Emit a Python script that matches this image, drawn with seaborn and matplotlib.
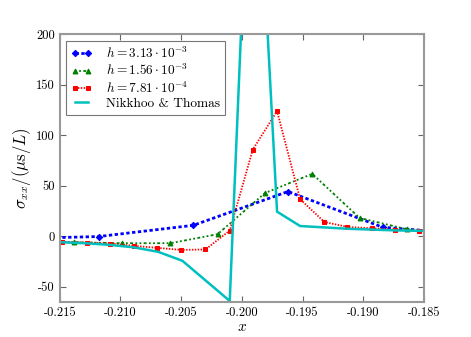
import matplotlib
matplotlib.use('Agg')
import matplotlib.pyplot as plt
import numpy as np
import pandas as pd
import seaborn as sns

# h = 3.13e-3
x_h1 = [-0.2196, -0.2118, -0.2040, -0.1962, -0.1884, -0.1806]
y_h1 = [-2.7, -0.3, 10.8, 44.2, 8.9, 1.5]

# h = 1.56e-3
x_h2 = [-0.2177, -0.2138, -0.2099, -0.2059, -0.2020, -0.1981, -0.1942, -0.1903, -0.1864, -0.1825]
y_h2 = [-5.5, -5.9, -6.9, -6.9, 2.0, 42.7, 61.7, 18.1, 6.9, 4.0]

# h = 7.81e-4
x_h3 = [-0.2148, -0.2128, -0.2109, -0.2089, -0.2070, -0.2050, -0.2030, -0.2010,
        -0.1991, -0.1971, -0.1952, -0.1932, -0.1913, -0.1893, -0.1874, -0.1854]
y_h3 = [-5.6, -6.2, -7.2, -9.5, -11.5, -13.5, -13.1, 5.6,
        85.7, 123.8, 36.7, 14.1, 9.2, 7.9, 6.6, 5.2]

# Nikkhoo & Thomas
x_nt = [-0.2168, -0.2148, -0.2128, -0.2109, -0.2089, -0.2069, -0.2049, -0.2010,
        -0.1991, -0.1971, -0.1952, -0.1913, -0.1874, -0.1835]
y_nt = [-5.5, -6.0, -7.0, -8.5, -11.0, -15.4, -24.3, -64.0,
        478.0, 24.3, 10.1, 7.4, 5.8, 5.0]

labels = [r'$h = 3.13 \cdot 10^{-3}$', r'$h = 1.56 \cdot 10^{-3}$',
          r'$h = 7.81 \cdot 10^{-4}$', 'Nikkhoo & Thomas']
xticks = [-0.215, -0.210, -0.205, -0.200, -0.195, -0.190, -0.185]
xticklabels = ['-0.215', '-0.210', '-0.205', '-0.200', '-0.195', '-0.190', '-0.185']
yticks = [-50, 0, 50, 100, 150, 200]
yticklabels = ['-50', '0', '50', '100', '150', '200']

plt.rcParams['font.family'] = 'serif'
plt.rcParams['font.serif'] = ['cmr10']
plt.rcParams['mathtext.fontset'] = 'cm'
plt.rcParams['axes.unicode_minus'] = False
plt.rcParams['font.size'] = 9

fig = plt.figure(figsize=(4.71, 3.37), dpi=100)
ax = fig.add_axes([0.127, 0.104, 0.773, 0.795])

sns.lineplot(x=x_h1, y=y_h1, ax=ax, sort=False, estimator=None, color='b',
             linewidth=2.0, marker='D', markersize=3.2,
             markeredgecolor='b', label=labels[0])
ax.lines[-1].set_linestyle((0, (1.2, 0.9)))
sns.lineplot(x=x_h2, y=y_h2, ax=ax, sort=False, estimator=None, color='g',
             linewidth=1.3, marker='^', markersize=3.5,
             markeredgecolor='g', label=labels[1])
ax.lines[-1].set_linestyle((0, (1, 1.3, 1, 1.3, 1.6, 1.3)))
sns.lineplot(x=x_h3, y=y_h3, ax=ax, sort=False, estimator=None, color='r',
             linewidth=1.3, marker='s', markersize=3,
             markeredgecolor='r', label=labels[2])
ax.lines[-1].set_linestyle((0, (0.8, 0.8)))
sns.lineplot(x=x_nt, y=y_nt, ax=ax, sort=False, estimator=None, color='c',
             linestyle='-', linewidth=1.8, label=labels[3])

ax.set_xlim(-0.215, -0.185)
ax.set_ylim(-65, 200)
ax.set_xticks(xticks)
ax.set_xticklabels(xticklabels)
ax.set_yticks(yticks)
ax.set_yticklabels(yticklabels)
ax.tick_params(direction='in', top=True, right=True, length=4, width=0.8,
               color='#666666', labelsize=9)
for s in ax.spines.values():
    s.set_color('#999999')
    s.set_linewidth(1.5)

ax.set_xlabel(r'$x$', fontsize=11, labelpad=1)
ax.set_ylabel(r'$\sigma_{xx}/(\mu \mathrm{s}/L)$', fontsize=12, labelpad=2)

leg = ax.legend(loc='upper left', numpoints=2, fancybox=False, fontsize=9.6,
                handlelength=1.6, handletextpad=1.0, borderpad=0.35,
                labelspacing=0.15, borderaxespad=0.5)
leg.get_frame().set_edgecolor('#555555')
leg.get_frame().set_linewidth(0.8)

fig.savefig('out.png', dpi=100)
